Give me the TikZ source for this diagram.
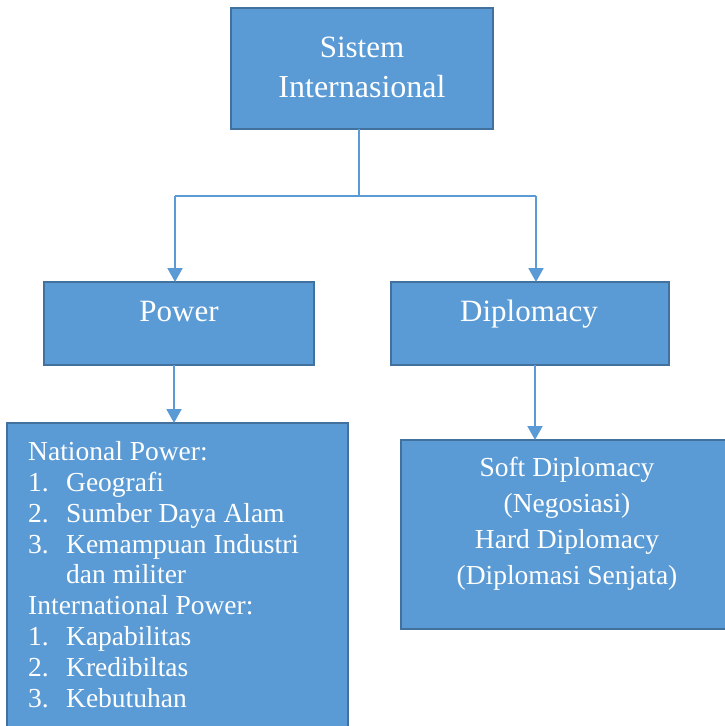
\documentclass[tikz,border=0pt]{standalone}
\usepackage{fontspec}
\setmainfont{Liberation Serif}
\usetikzlibrary{positioning}
\usetikzlibrary{arrows.meta}

\definecolor{boxblue}{HTML}{5B9BD5}
\definecolor{boxedge}{HTML}{41719C}

\tikzset{
  box/.style={draw=boxedge,fill=boxblue,line width=2.5pt,inner sep=0pt,outer sep=0pt},
  title/.style={text=white,inner sep=0pt,anchor=base,font=\fontsize{31}{37}\selectfont},
  item/.style={text=white,inner sep=0pt,anchor=base west,font=\fontsize{27.5}{31}\selectfont},
  link/.style={draw=boxblue,line width=2pt},
  arrow/.style={link,-{Triangle[width=15pt,length=14pt]}}
}

\begin{document}
\begin{tikzpicture}[x=1pt,y=-1pt]

\clip (0,0) rectangle (725,726);

% boxes
\node[box,minimum width=262,minimum height=121] (sistem) at (362,68.5) {};
\node[box,minimum width=270,minimum height=83] (power) at (179,323.5) {};
\node[box,minimum width=278,minimum height=83] (diplomacy) at (530,323.5) {};
\node[box,minimum width=341,minimum height=337] (natpower) at (177.5,591.5) {};
\node[box,minimum width=333,minimum height=189] (diplotype) at (567.5,534.5) {};

% titles
\node[title] (sistem1) at (362,57) {Sistem};
\node[title,font=\fontsize{32}{37}\selectfont] (sistem2) at (362,97) {Internasional};
\node[title] (powertxt) at (179,321) {Power};
\node[title] (diplotxt) at (529,321) {Diplomacy};

% power list
\node[item] (nphead) at (28,460) {National Power:};
\foreach \txt [count=\i] in {Geografi,Sumber Daya Alam,Kemampuan Industri}
  \node[item] (np\i) at (28,460+31*\i) {\makebox[38pt][l]{\i.}\txt};
\node[item] (np3b) at (66,583) {dan militer};
\node[item] (iphead) at (28,614) {International Power:};
\foreach \txt [count=\i] in {Kapabilitas,Kredibiltas,Kebutuhan}
  \node[item] (ip\i) at (28,614+31*\i) {\makebox[38pt][l]{\i.}\txt};

% diplomacy list
\foreach \txt [count=\i] in {Soft Diplomacy,{(Negosiasi)},Hard Diplomacy,{(Diplomasi Senjata)}}
  \node[title,font=\fontsize{27.5}{31}\selectfont] (dt\i) at (567,439.7+36.3*\i) {\txt};

% connectors
\coordinate (split) at (359,196);
\draw[link,line width=1.3pt] (sistem.south -| split) -- (split);
\draw[link,line width=1.6pt] ([xshift=-4pt]power.north |- split) -- ([xshift=6pt]diplomacy.north |- split);
\draw[arrow] ([xshift=-4pt]power.north |- split) -- ([xshift=-4pt]power.north);
\draw[arrow] ([xshift=6pt]diplomacy.north |- split) -- ([xshift=6pt]diplomacy.north);
\draw[arrow] ([xshift=-5pt]power.south) -- ([xshift=-5pt]power.south |- natpower.north);
\draw[arrow] ([xshift=5pt]diplomacy.south) -- ([xshift=5pt]diplomacy.south |- diplotype.north);

\end{tikzpicture}
\end{document}
